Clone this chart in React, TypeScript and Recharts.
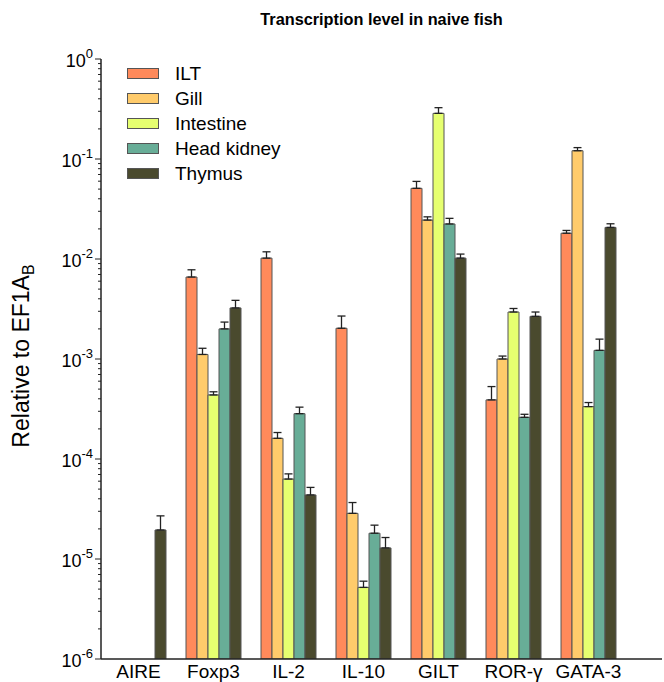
import React from 'react';
import { BarChart, Bar, XAxis, YAxis, ErrorBar } from 'recharts';

// ---------------------------------------------------------------------------
// data (log scale)
// ---------------------------------------------------------------------------

const genes = ['AIRE', 'Foxp3', 'IL-2', 'IL-10', 'GILT', 'ROR-γ', 'GATA-3'];

const ilt = [null, 0.0066, 0.0102, 0.00203, 0.0509, 0.00039, 0.0181];
const iltErr = [null, 0.0012, 0.0016, 0.00066, 0.0088, 0.00014, 0.0012];

const gill = [null, 0.00111, 0.000161, 2.86e-5, 0.0245, 0.001, 0.121];
const gillErr = [null, 0.00017, 0.000023, 0.0000081, 0.0019, 0.00007, 0.009];

const intestine = [null, 0.000437, 6.3e-5, 5.2e-6, 0.286, 0.00295, 0.000334];
const intestineErr = [null, 0.000033, 0.000008, 0.0000008, 0.04, 0.00025, 0.000033];

const headKidney = [null, 0.002, 0.000284, 1.81e-5, 0.0224, 0.000261, 0.00122];
const headKidneyErr = [null, 0.00034, 0.000046, 0.0000037, 0.0031, 0.000019, 0.00036];

const thymus = [1.95e-5, 0.00324, 4.37e-5, 1.29e-5, 0.0102, 0.00267, 0.0207];
const thymusErr = [0.0000075, 0.00062, 0.0000083, 0.0000035, 0.001, 0.00028, 0.0018];

const majorExponents = [-6, -5, -4, -3, -2, -1, 0];

const series = [
  { key: 'ilt', name: 'ILT', color: '#FF8A5B', values: ilt, errs: iltErr },
  { key: 'gill', name: 'Gill', color: '#FFCB6B', values: gill, errs: gillErr },
  { key: 'intestine', name: 'Intestine', color: '#E6FF70', values: intestine, errs: intestineErr },
  { key: 'hk', name: 'Head kidney', color: '#68AD97', values: headKidney, errs: headKidneyErr },
  { key: 'thymus', name: 'Thymus', color: '#4A4A2E', values: thymus, errs: thymusErr },
];

const data = genes.map((g, i) => {
  const row: Record<string, any> = { gene: g };
  series.forEach((s) => {
    row[s.key] = s.values[i];
    row[s.key + 'Err'] = s.errs[i] == null ? null : [0, s.errs[i]];
  });
  return row;
});

// major + minor tick positions for the log axis
const yTicks: number[] = [];
majorExponents.forEach((e) => {
  yTicks.push(Math.pow(10, e));
  if (e < 0) for (let m = 2; m <= 9; m++) yTicks.push(m * Math.pow(10, e));
});

const FONT = '"Liberation Sans", Arial, sans-serif';

function LogTick(props: any) {
  const { x, y, payload } = props;
  const v = payload.value;
  const exp = Math.round(Math.log10(v));
  const isMajor = Math.abs(v - Math.pow(10, exp)) < 1e-12;
  return (
    <g>
      <line x1={x - (isMajor ? 6 : 3)} x2={x} y1={y} y2={y} stroke="#222" strokeWidth={1} />
      {isMajor && (
        <text x={x - 8} y={y + 8} textAnchor="end" fontFamily={FONT} fontSize={18} fill="#000">
          10
          <tspan fontSize={13} dy={-9}>{String(exp)}</tspan>
        </text>
      )}
    </g>
  );
}

export default function App() {
  return (
    <div style={{ position: 'absolute', left: 0, top: 0, width: 664, height: 682, background: '#fff', fontFamily: FONT }}>
      <div
        style={{
          position: 'absolute', left: 101, width: 561, top: 10, textAlign: 'center',
          fontWeight: 'bold', fontSize: 16.3, color: '#000',
        }}
      >
        Transcription level in naive fish
      </div>

      <div
        style={{
          position: 'absolute', left: 23, top: 356, fontSize: 23, whiteSpace: 'nowrap', color: '#000',
          transform: 'translate(-50%, -50%) rotate(-90deg)',
        }}
      >
        Relative to EF1A<sub style={{ fontSize: 16 }}>B</sub>
      </div>

      <BarChart
        width={664}
        height={682}
        data={data}
        margin={{ top: 59, right: 2, bottom: 0, left: 21 }}
        barCategoryGap={10}
        barGap={0}
      >
        <XAxis
          dataKey="gene"
          padding={{ left: 0, right: 36 }}
          height={23}
          tickLine={false}
          tickSize={0}
          tickMargin={6}
          axisLine={{ stroke: '#222', strokeWidth: 1.5 }}
          tick={{ fontSize: 19, fill: '#000', fontFamily: FONT }}
          interval={0}
        />
        <YAxis
          scale="log"
          domain={[1e-6, 1]}
          allowDataOverflow
          ticks={yTicks}
          interval={0}
          width={80}
          tickLine={false}
          tickSize={0}
          tickMargin={0}
          axisLine={{ stroke: '#222', strokeWidth: 1.5 }}
          tick={<LogTick />}
        />
        {series.map((s) => (
          <Bar
            key={s.key}
            dataKey={s.key}
            name={s.name}
            fill={s.color}
            stroke="#555"
            strokeWidth={1}
            isAnimationActive={false}
          >
            <ErrorBar dataKey={s.key + 'Err'} direction="y" width={4} stroke="#222" strokeWidth={1.3} />
          </Bar>
        ))}
      </BarChart>

      <div style={{ position: 'absolute', left: 127, top: 61 }}>
        {series.map((s) => (
          <div key={s.key} style={{ display: 'flex', alignItems: 'center', height: 25 }}>
            <div style={{ width: 30, height: 9, background: s.color, border: '1px solid #555' }} />
            <span style={{ marginLeft: 16, fontSize: 19, color: '#000' }}>{s.name}</span>
          </div>
        ))}
      </div>
    </div>
  );
}
